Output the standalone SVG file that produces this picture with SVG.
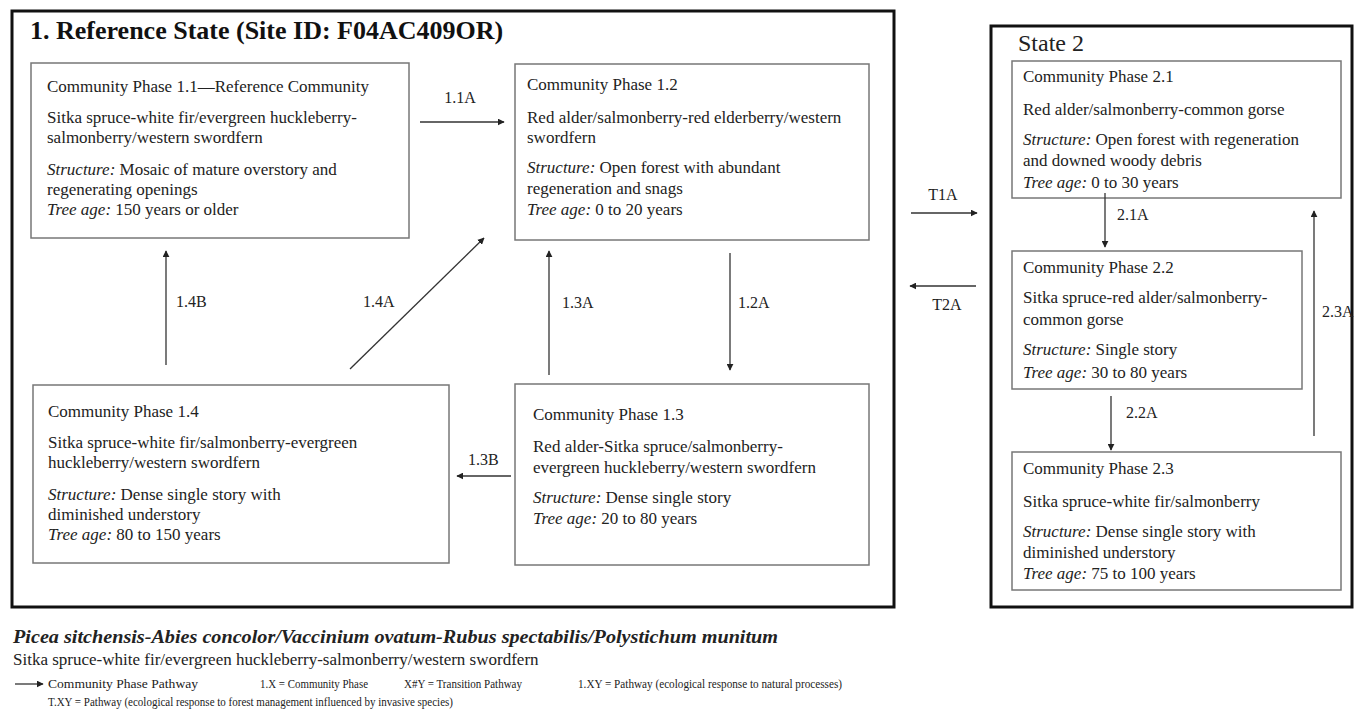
<svg xmlns="http://www.w3.org/2000/svg" width="1355" height="719" viewBox="0 0 1355 719">
<style>
text{font-family:"Liberation Serif","Times New Roman",serif;fill:#222}
.t{font-size:17px}
.i{font-style:italic}
.lbl{font-size:16px}
.title{font-size:26px;font-weight:bold;fill:#111}
.state{fill:none;stroke:#111;stroke-width:3}
.box{fill:#fff;stroke:#777;stroke-width:1.5}
.conn line{stroke:#333;stroke-width:1.3;marker-end:url(#ah)}
.leg{font-size:13px}
</style>
<defs>
<marker id="ah" viewBox="0 0 10 10" refX="9" refY="5" markerWidth="7" markerHeight="7" markerUnits="userSpaceOnUse" orient="auto">
<path d="M0,0 L10,5 L0,10 z" fill="#222"/>
</marker>
</defs>
<rect width="1355" height="719" fill="#fff"/>

<g id="state1">
<rect class="state" x="12" y="11" width="882" height="596"/>
<text class="title" x="30" y="39">1. Reference State (Site ID: F04AC409OR)</text>
</g>
<g id="state2">
<rect class="state" x="991" y="26" width="361" height="581"/>
<text x="1018" y="51" style="font-size:24px">State 2</text>
</g>

<g id="cp11">
<rect class="box" x="31" y="63" width="378" height="175"/>
<text class="t" x="47" y="92">Community Phase 1.1—Reference Community</text>
<text class="t" x="47" y="123">Sitka spruce-white fir/evergreen huckleberry-</text>
<text class="t" x="47" y="143">salmonberry/western swordfern</text>
<text class="t" x="47" y="175"><tspan class="i">Structure:</tspan> Mosaic of mature overstory and</text>
<text class="t" x="47" y="195">regenerating openings</text>
<text class="t" x="47" y="215"><tspan class="i">Tree age:</tspan> 150 years or older</text>
</g>

<g id="cp12">
<rect class="box" x="515" y="64" width="354" height="176"/>
<text class="t" x="527" y="90">Community Phase 1.2</text>
<text class="t" x="527" y="123">Red alder/salmonberry-red elderberry/western</text>
<text class="t" x="527" y="143">swordfern</text>
<text class="t" x="527" y="173"><tspan class="i">Structure:</tspan> Open forest with abundant</text>
<text class="t" x="527" y="194">regeneration and snags</text>
<text class="t" x="527" y="215"><tspan class="i">Tree age:</tspan> 0 to 20 years</text>
</g>

<g id="cp13">
<rect class="box" x="515" y="384" width="354" height="181"/>
<text class="t" x="533" y="420">Community Phase 1.3</text>
<text class="t" x="533" y="452">Red alder-Sitka spruce/salmonberry-</text>
<text class="t" x="533" y="473">evergreen huckleberry/western swordfern</text>
<text class="t" x="533" y="503"><tspan class="i">Structure:</tspan> Dense single story</text>
<text class="t" x="533" y="524"><tspan class="i">Tree age:</tspan> 20 to 80 years</text>
</g>

<g id="cp14">
<rect class="box" x="33" y="385" width="416" height="178"/>
<text class="t" x="48" y="417">Community Phase 1.4</text>
<text class="t" x="48" y="448">Sitka spruce-white fir/salmonberry-evergreen</text>
<text class="t" x="48" y="468">huckleberry/western swordfern</text>
<text class="t" x="48" y="500"><tspan class="i">Structure:</tspan> Dense single story with</text>
<text class="t" x="48" y="520">diminished understory</text>
<text class="t" x="48" y="540"><tspan class="i">Tree age:</tspan> 80 to 150 years</text>
</g>

<g id="cp21">
<rect class="box" x="1012" y="61" width="329" height="137"/>
<text class="t" x="1023" y="82">Community Phase 2.1</text>
<text class="t" x="1023" y="115">Red alder/salmonberry-common gorse</text>
<text class="t" x="1023" y="145"><tspan class="i">Structure:</tspan> Open forest with regeneration</text>
<text class="t" x="1023" y="166">and downed woody debris</text>
<text class="t" x="1023" y="188"><tspan class="i">Tree age:</tspan> 0 to 30 years</text>
</g>

<g id="cp22">
<rect class="box" x="1012" y="251" width="290" height="138"/>
<text class="t" x="1023" y="273">Community Phase 2.2</text>
<text class="t" x="1023" y="303">Sitka spruce-red alder/salmonberry-</text>
<text class="t" x="1023" y="325">common gorse</text>
<text class="t" x="1023" y="355"><tspan class="i">Structure:</tspan> Single story</text>
<text class="t" x="1023" y="378"><tspan class="i">Tree age:</tspan> 30 to 80 years</text>
</g>

<g id="cp23">
<rect class="box" x="1012" y="452" width="329" height="138"/>
<text class="t" x="1023" y="474">Community Phase 2.3</text>
<text class="t" x="1023" y="507">Sitka spruce-white fir/salmonberry</text>
<text class="t" x="1023" y="537"><tspan class="i">Structure:</tspan> Dense single story with</text>
<text class="t" x="1023" y="558">diminished understory</text>
<text class="t" x="1023" y="579"><tspan class="i">Tree age:</tspan> 75 to 100 years</text>
</g>

<g id="connectors" class="conn">
<line x1="420" y1="122" x2="504" y2="122"/>
<line x1="730" y1="253" x2="730" y2="370"/>
<line x1="549" y1="375" x2="549" y2="251"/>
<line x1="511" y1="476" x2="457" y2="476"/>
<line x1="350" y1="369" x2="484" y2="238"/>
<line x1="166" y1="365" x2="166" y2="251"/>
<line x1="911" y1="213" x2="977" y2="213"/>
<line x1="976" y1="286" x2="910" y2="286"/>
<line x1="1105" y1="193" x2="1105" y2="247"/>
<line x1="1111" y1="396" x2="1111" y2="450"/>
<line x1="1314" y1="436" x2="1314" y2="211"/>
</g>
<g id="labels" class="lbl">
<text class="lbl" x="460" y="103" text-anchor="middle">1.1A</text>
<text class="lbl" x="738" y="308">1.2A</text>
<text class="lbl" x="562" y="308">1.3A</text>
<text class="lbl" x="468" y="465">1.3B</text>
<text class="lbl" x="363" y="307">1.4A</text>
<text class="lbl" x="176" y="307">1.4B</text>
<text class="lbl" x="943" y="200" text-anchor="middle">T1A</text>
<text class="lbl" x="947" y="310" text-anchor="middle">T2A</text>
<text class="lbl" x="1117" y="220">2.1A</text>
<text class="lbl" x="1126" y="418">2.2A</text>
<text class="lbl" x="1322" y="317">2.3A</text>
</g>

<g id="legend">
<text x="13" y="643" style="font-size:18px;font-weight:bold;font-style:italic" textLength="765" lengthAdjust="spacingAndGlyphs">Picea sitchensis-Abies concolor/Vaccinium ovatum-Rubus spectabilis/Polystichum munitum</text>
<text x="13" y="665" style="font-size:17px">Sitka spruce-white fir/evergreen huckleberry-salmonberry/western swordfern</text>
<line x1="15" y1="684" x2="43" y2="684" stroke="#333" stroke-width="1.3" marker-end="url(#ah)"/>
<text class="leg" x="48" y="688" textLength="150" lengthAdjust="spacingAndGlyphs">Community Phase Pathway</text>
<text class="leg" x="260" y="688" textLength="108" lengthAdjust="spacingAndGlyphs">1.X = Community Phase</text>
<text class="leg" x="404" y="688" textLength="118" lengthAdjust="spacingAndGlyphs">X#Y = Transition Pathway</text>
<text class="leg" x="578" y="688" textLength="264" lengthAdjust="spacingAndGlyphs">1.XY = Pathway (ecological response to natural processes)</text>
<text class="leg" x="48" y="706" textLength="405" lengthAdjust="spacingAndGlyphs">T.XY = Pathway (ecological response to forest management influenced by invasive species)</text>
</g>
</svg>
